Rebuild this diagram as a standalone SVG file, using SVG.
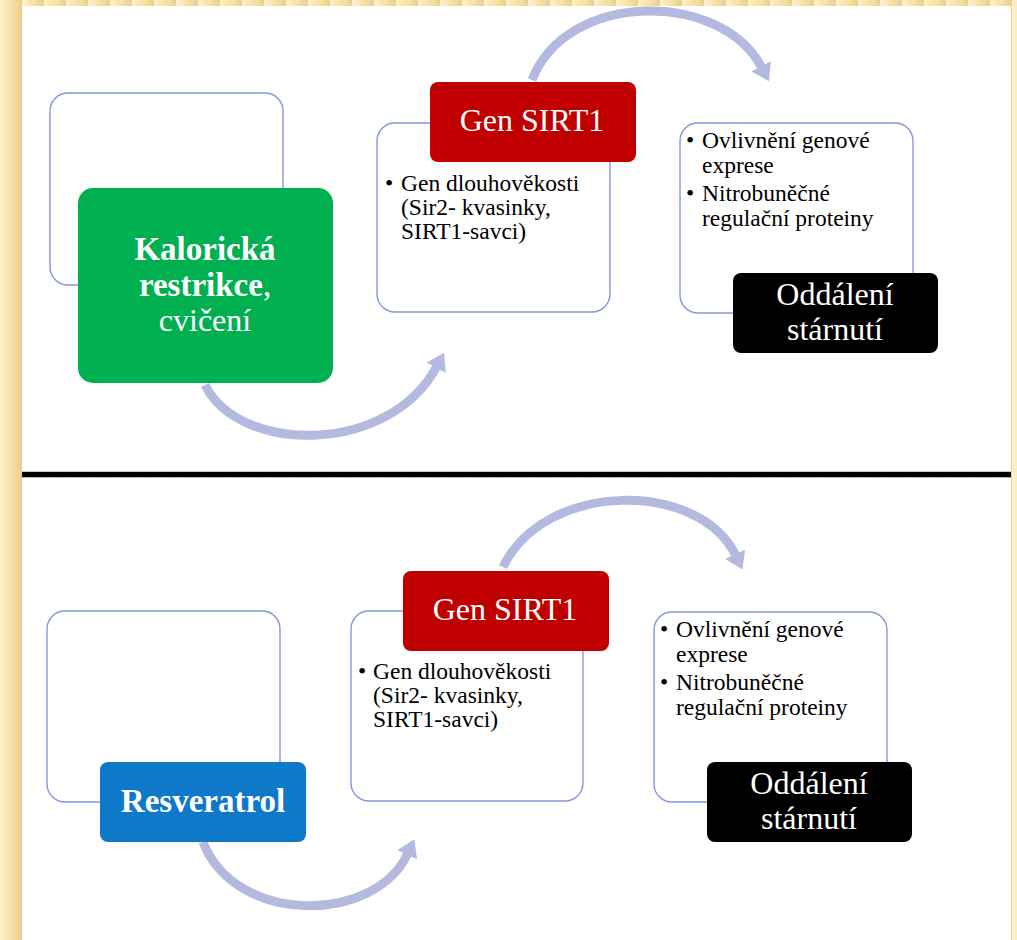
<svg xmlns="http://www.w3.org/2000/svg" width="1017" height="940" viewBox="0 0 1017 940">
<defs>
<linearGradient id="stripe" x1="0" y1="0" x2="1" y2="0">
<stop offset="0" stop-color="#fdf3cc"/>
<stop offset="0.5" stop-color="#f7e2a6"/>
<stop offset="1" stop-color="#e9cf8c"/>
</linearGradient>
<pattern id="bg" x="0" y="0" width="22" height="40" patternUnits="userSpaceOnUse">
<rect width="22" height="40" fill="url(#stripe)"/>
</pattern>
<marker id="ah" viewBox="0 -12 20 24" refX="2" refY="0" markerWidth="20" markerHeight="24" markerUnits="userSpaceOnUse" orient="auto">
<path d="M0,-11 L17,0 L0,11 z" fill="#b4badf"/>
</marker>
<style>
.outline{fill:#fff;stroke:#8496dc;stroke-width:1.4}
.arc{fill:none;stroke:#b4badf;stroke-width:9;marker-end:url(#ah)}
.lbl{font-family:"Liberation Serif","Times New Roman",serif;fill:#fff;text-anchor:middle}
.big{font-size:32px}
.bold{font-size:33px;font-weight:bold}
.bul{font-family:"Liberation Serif","Times New Roman",serif;font-size:23.5px;fill:#000}
</style>
</defs>
<rect width="1017" height="940" fill="url(#bg)"/>
<rect x="22" y="6" width="989" height="465" fill="#fff"/>
<rect x="22" y="471" width="989" height="1" fill="#c8c8c8"/>
<rect x="22" y="472" width="989" height="5.5" fill="#000"/>
<rect x="22" y="477.5" width="989" height="462.5" fill="#fff"/>

<g id="connectors">
<path class="arc" d="M532,80 C567,-10 722,-10 762,68"/>
<path class="arc" d="M205,385 C240,455 390,455 437,366"/>
<path class="arc" d="M503,567 C545,480 700,480 736,556"/>
<path class="arc" d="M203,842 C235,925 375,925 408,853"/>
</g>

<g id="top-box1">
<rect class="outline" x="50" y="93" width="233" height="192" rx="18"/>
</g>
<g id="top-kaloricka">
<rect x="78" y="188" width="255" height="195" rx="15" fill="#00b050"/>
<text class="lbl bold" x="205" y="260">Kalorická</text>
<text class="lbl bold" x="205" y="296">restrikce<tspan font-weight="normal">,</tspan></text>
<text class="lbl big" x="205" y="331" font-size="33">cvičení</text>
</g>
<g id="top-box2">
<rect class="outline" x="377" y="123" width="233" height="189" rx="18"/>
<text class="bul" x="385" y="191">•</text>
<text class="bul" x="401" y="191">Gen dlouhověkosti</text>
<text class="bul" x="401" y="215">(Sir2- kvasinky,</text>
<text class="bul" x="401" y="239">SIRT1-savci)</text>
</g>
<g id="top-sirt1">
<rect x="430" y="82" width="206" height="80" rx="8" fill="#c00000"/>
<text class="lbl big" x="532" y="131">Gen SIRT1</text>
</g>
<g id="top-box3">
<rect class="outline" x="680" y="123" width="233" height="190" rx="18"/>
<text class="bul" x="686" y="148">•</text>
<text class="bul" x="702" y="148">Ovlivnění genové</text>
<text class="bul" x="702" y="173">exprese</text>
<text class="bul" x="686" y="201">•</text>
<text class="bul" x="702" y="201">Nitrobuněčné</text>
<text class="bul" x="702" y="226">regulační proteiny</text>
</g>
<g id="top-oddaleni">
<rect x="733" y="273" width="205" height="80" rx="8" fill="#000"/>
<text class="lbl big" x="835" y="305">Oddálení</text>
<text class="lbl big" x="835" y="340">stárnutí</text>
</g>

<g id="bot-box1">
<rect class="outline" x="47" y="611" width="233" height="191" rx="18"/>
</g>
<g id="bot-resveratrol">
<rect x="100" y="762" width="206" height="80" rx="8" fill="#0e78c9"/>
<text class="lbl bold" x="203" y="812">Resveratrol</text>
</g>
<g id="bot-box2">
<rect class="outline" x="351" y="611" width="232" height="190" rx="18"/>
<text class="bul" x="358" y="679">•</text>
<text class="bul" x="373" y="679">Gen dlouhověkosti</text>
<text class="bul" x="373" y="703">(Sir2- kvasinky,</text>
<text class="bul" x="373" y="727">SIRT1-savci)</text>
</g>
<g id="bot-sirt1">
<rect x="403" y="571" width="206" height="80" rx="8" fill="#c00000"/>
<text class="lbl big" x="505" y="620">Gen SIRT1</text>
</g>
<g id="bot-box3">
<rect class="outline" x="654" y="612" width="233" height="190" rx="18"/>
<text class="bul" x="660" y="637">•</text>
<text class="bul" x="676" y="637">Ovlivnění genové</text>
<text class="bul" x="676" y="662">exprese</text>
<text class="bul" x="660" y="690">•</text>
<text class="bul" x="676" y="690">Nitrobuněčné</text>
<text class="bul" x="676" y="715">regulační proteiny</text>
</g>
<g id="bot-oddaleni">
<rect x="707" y="762" width="205" height="80" rx="8" fill="#000"/>
<text class="lbl big" x="809" y="794">Oddálení</text>
<text class="lbl big" x="809" y="829">stárnutí</text>
</g>
</svg>
